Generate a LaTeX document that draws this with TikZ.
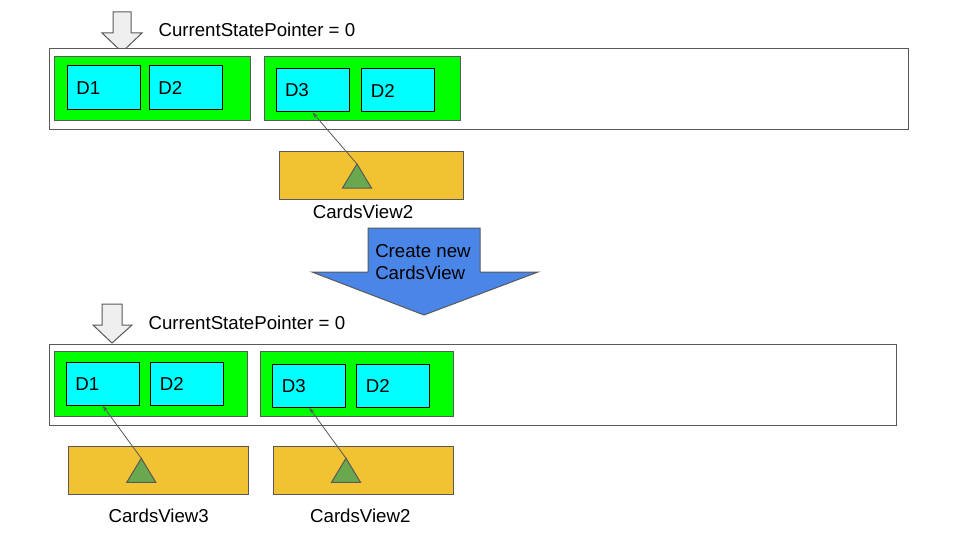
\documentclass[tikz,border=0pt]{standalone}
\usepackage{fontspec}
\setmainfont{Liberation Sans}
\usetikzlibrary{arrows.meta}
\begin{document}
\begin{tikzpicture}[x=1pt, y=-1pt,
    every node/.style={font=\fontsize{18.67}{22}\selectfont},
    stackBox/.style={draw=lineGrey, fill=white, line width=1pt, inner sep=0pt},
    groupBox/.style={draw=lineGrey, fill=groupGreen, line width=1pt, minimum width=196pt, minimum height=64pt, inner sep=0pt},
    dataBox/.style={draw=black, fill=dataCyan, line width=1pt, minimum height=44pt, text width=55pt, inner xsep=9pt, inner ysep=0pt, align=left},
    viewBox/.style={draw=lineGrey, fill=viewYellow, line width=1pt, minimum width=182pt, minimum height=47pt, inner sep=0pt},
    pointerArrow/.style={draw=lineGrey, fill=pointerGrey, line width=1pt},
    refLine/.style={draw=lineGrey, line width=0.8pt, -{Stealth[length=6pt,width=4pt]}}]
    \definecolor{lineGrey}{HTML}{595959}
    \definecolor{groupGreen}{HTML}{00FF00}
    \definecolor{dataCyan}{HTML}{00FFFF}
    \definecolor{viewYellow}{HTML}{F1C232}
    \definecolor{triGreen}{HTML}{6AA84F}
    \definecolor{pointerGrey}{HTML}{EFEFEF}
    \definecolor{createBlue}{HTML}{4A86E8}

    \useasboundingbox (0,0) rectangle (960,540);

    % Top state: pointer
    \filldraw[pointerArrow] (113,12) -- (131,12) -- (131,33) -- (142,33) -- (122,52) -- (102,33) -- (113,33) -- cycle;
    \node[anchor=base west] (topPointer) at (155,36.5) {CurrentStatePointer = 0};

    % Top state: stack
    \node[stackBox, minimum width=859pt, minimum height=81pt] (topStack) at (478.5,89.5) {};
    \node[groupBox] (topGroupA) at (152.3,89) {};
    \node[groupBox] (topGroupB) at (362.3,89) {};
    \node[dataBox] (topDA) at (103.8,88) {D1};
    \node[dataBox] (topDB) at (185.8,88) {D2};
    \node[dataBox, minimum height=43pt] (topDC) at (312.5,90.5) {D3};
    \node[dataBox, minimum height=43pt] (topDD) at (398.3,90.5) {D2};

    % Top state: cards view
    \node[viewBox, minimum width=184pt] (topView) at (371,175.5) {};
    \node (topViewName) at (363,212) {CardsView2};

    % Create new CardsView
    \filldraw[draw=lineGrey, fill=createBlue, line width=1pt] (368,228) -- (480,228) -- (480,272) -- (538,272) -- (424,315) -- (312,272) -- (368,272) -- cycle;
    \node[align=left] (createLabel) at (423,262) {Create new\\CardsView};

    % Bottom state: pointer
    \filldraw[pointerArrow] (102,304) -- (122,304) -- (122,325) -- (132,325) -- (112,343) -- (93,325) -- (102,325) -- cycle;
    \node[anchor=base west] (botPointer) at (145,329.5) {CurrentStatePointer = 0};

    % Bottom state: stack
    \node[stackBox, minimum width=847pt, minimum height=81pt] (botStack) at (472.5,384.5) {};
    \node[groupBox, minimum width=193pt, minimum height=65pt] (botGroupA) at (151,384) {};
    \node[groupBox, minimum width=193pt, minimum height=65pt] (botGroupB) at (357,384) {};
    \node[dataBox, minimum height=43pt] (botDA) at (102.8,383.8) {D1};
    \node[dataBox, minimum height=43pt] (botDB) at (187.3,383.8) {D2};
    \node[dataBox, minimum height=43pt] (botDC) at (309.3,385.8) {D3};
    \node[dataBox, minimum height=43pt] (botDD) at (393.3,385.8) {D2};

    % Bottom state: cards views
    \node[viewBox, minimum width=180pt, minimum height=48pt] (botViewA) at (158.3,470) {};
    \node[viewBox, minimum width=180pt, minimum height=48pt] (botViewB) at (363.3,470) {};
    \node (botViewAName) at (158.7,516) {CardsView3};
    \node (botViewBName) at (360.3,516) {CardsView2};

    % Triangles and references
    \foreach \tx/\ty/\tname in {357/164/topApex, 141.3/458.3/botApexA, 346/458.3/botApexB} {
        \filldraw[draw=lineGrey, fill=triGreen, line width=1pt] (\tx,\ty) -- (\tx+14.5,\ty+24) -- (\tx-14.5,\ty+24) -- cycle;
        \coordinate (\tname) at (\tx,\ty);
    }
    \draw[refLine] (topApex) -- (topDC.south);
    \draw[refLine] (botApexA) -- (botDA.south);
    \draw[refLine] (botApexB) -- (botDC.south);

\end{tikzpicture}
\end{document}
